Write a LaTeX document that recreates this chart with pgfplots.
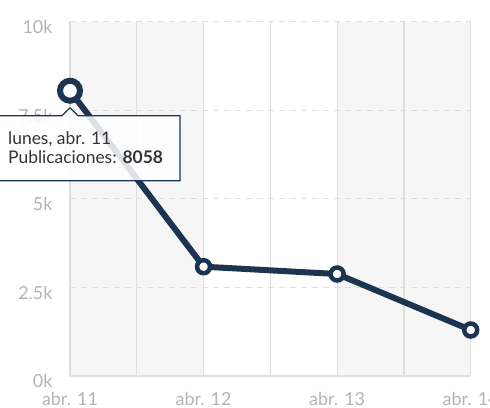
\documentclass[border=0pt]{standalone}
\usepackage{fontspec}
\setmainfont{Lato}
\usepackage{pgfplots}
\pgfplotsset{compat=1.18}
\usetikzlibrary{calc}
\definecolor{navy}{HTML}{1B344F}
\definecolor{tick}{HTML}{B4B4B4}
\definecolor{gridc}{HTML}{DEDEDE}
\definecolor{band}{HTML}{F6F6F6}
\begin{document}
\begin{tikzpicture}
\begin{axis}[set layers,
 scale only axis, width=400.7bp, height=354bp,
 xmin=0, xmax=3, ymin=0, ymax=10000,
 xtick={0,1,2,3}, xticklabels={abr. 11,abr. 12,abr. 13,abr. 14},
 minor xtick={0.5,1.5,2.5},
 ytick={0,2500,5000,7500,10000}, yticklabels={0k,2.5k,5k,7.5k,10k},
 scaled y ticks=false,
 xmajorgrids, xminorgrids,
 major x grid style={gridc, line width=1.2bp, solid},
 minor x grid style={gridc, line width=1.2bp, solid},
 ymajorgrids, major y grid style={gridc, line width=1bp, dash pattern=on 6bp off 5bp},
 axis line style={draw=none}, major tick length=0, minor tick length=0,
 tick label style={font=\fontsize{18}{18}\selectfont, text=tick},
 yticklabel style={anchor=east, xshift=-14bp, yshift=-5bp},
 xticklabel style={anchor=base, yshift=-29bp},
 clip=false]
\begin{pgfonlayer}{axis background}
\fill[band] (axis cs:0,0) rectangle (axis cs:1,10000);
\fill[band] (axis cs:2,0) rectangle (axis cs:3,10000);
\end{pgfonlayer}
\draw[gridc, line width=1.2bp] (axis cs:0,0) -- (axis cs:3,0);
\addplot[navy, line width=6bp, line join=round] coordinates {(0,8058)(1,3088)(2,2881)(3,1299)};
\coordinate (p) at (axis cs:0,8058);
\coordinate (O) at (rel axis cs:0,0);
\draw[navy, line width=1.3bp, fill=white, fill opacity=0.85, line join=round]
 ($(p)+(-80bp,-25bp)$) -- ($(p)+(-8bp,-25bp)$) -- ($(p)+(0bp,-17bp)$) -- ($(p)+(8bp,-25bp)$)
 -- ($(p)+(110bp,-25bp)$) -- ($(p)+(110bp,-90bp)$) -- ($(p)+(-80bp,-90bp)$) -- cycle;
\node[anchor=base west, inner sep=0, text=black!80, font=\fontsize{17.5}{17.5}\selectfont] at ($(p)+(-62bp,-54bp)$) {lunes, abr. 11};
\node[anchor=base west, inner sep=0, text=black!80, font=\fontsize{17.5}{17.5}\selectfont] at ($(p)+(-62bp,-73bp)$) {Publicaciones: \textbf{8058}};
\addplot[only marks, mark=*, mark size=6.5bp, mark options={draw=navy, fill=white, line width=4.5bp}] coordinates {(1,3088)(2,2881)(3,1299)};
\addplot[only marks, mark=*, mark size=10bp, mark options={draw=navy, fill=white, line width=6bp}] coordinates {(0,8058)};
\end{axis}
\pgfresetboundingbox
\useasboundingbox ($(O)+(-70bp,-32bp)$) rectangle ++(490bp,408bp);
\end{tikzpicture}
\end{document}
